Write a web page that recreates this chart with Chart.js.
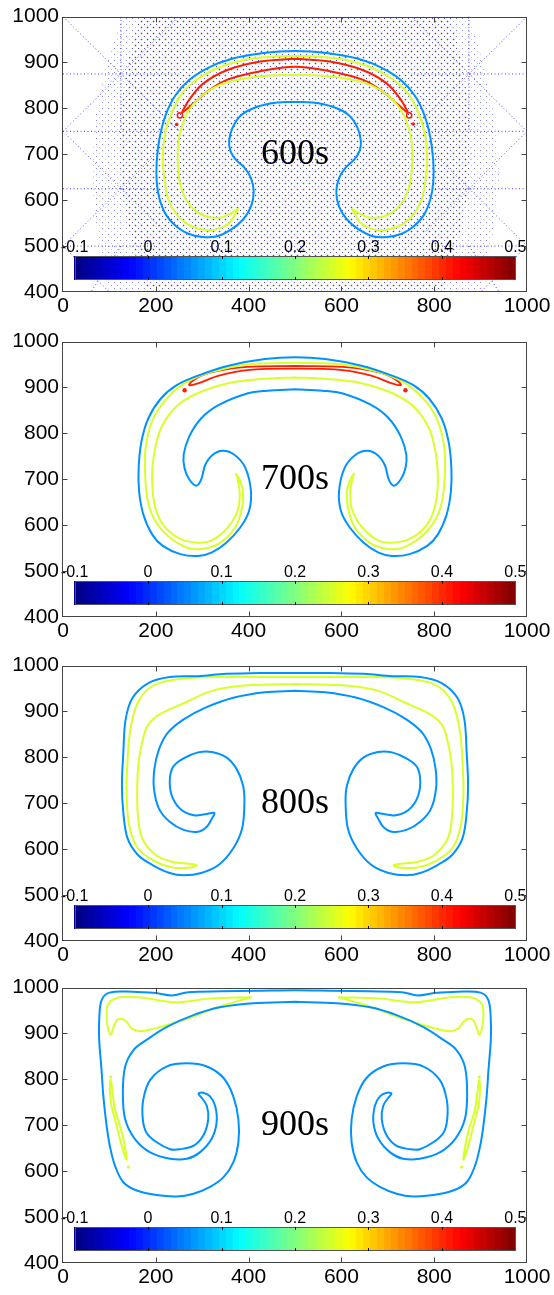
<!DOCTYPE html>
<html>
<head>
<meta charset="utf-8">
<script src="https://cdn.jsdelivr.net/npm/chart.js@4.4.0/dist/chart.umd.min.js"></script>
<style>
    body { margin: 0; background: #fff; width: 554px; height: 1295px; overflow: hidden; position: relative; }
    .panel { position: absolute; left: 0; width: 554px; }
    canvas { display: block; }
</style>
</head>
<body>
<div class="panel" style="top:0px"><canvas id="c0" width="554" height="325"></canvas></div>
<div class="panel" style="top:325px"><canvas id="c1" width="554" height="325"></canvas></div>
<div class="panel" style="top:649px"><canvas id="c2" width="554" height="325"></canvas></div>
<div class="panel" style="top:971px"><canvas id="c3" width="554" height="324"></canvas></div>
<script>
// axes
const xTicks = [0, 200, 400, 600, 800, 1000];
const yTicks = [400, 500, 600, 700, 800, 900, 1000];
const timeLabels = ['600s', '700s', '800s', '900s'];

// colorbar
const cbarTicks = [-0.1, 0, 0.1, 0.2, 0.3, 0.4, 0.5];
const cbarLabels = ['-0.1', '0', '0.1', '0.2', '0.3', '0.4', '0.5'];
const cbarX = [25, 975];
const cbarY = [426, 478];

// contour colours (levels)
const BLUE = 'rgb(0,146,255)';
const YELLOW = 'rgb(215,255,40)';
const RED = 'rgb(255,30,0)';

// ---- 600s ----
const p1BlueL = [[500,814],[462,813],[420,804],[385,786],[365,757],[358,728],[361,707],[372,689],[390,672],[405,648],[411,618],[405,586],[388,558],[362,536],[330,521],[300,520],[270,527],[245,542],[222,568],[208,603],[202,640],[202,685],[208,735],[221,785],[242,828],[272,862],[314,889],[364,908],[428,920],[500,925]];
const p1BlueR = [[572,920],[636,908],[686,889],[728,862],[758,828],[779,785],[792,735],[798,685],[798,640],[792,603],[778,568],[755,542],[730,527],[700,520],[670,521],[638,536],[612,558],[595,586],[589,618],[595,648],[610,672],[628,689],[639,707],[642,728],[635,757],[615,786],[580,804],[538,813],[500,814]];
const p1YellowL = [[500,873],[440,871],[385,864],[335,850],[297,826],[268,790],[252,745],[247,700],[250,650],[260,612],[280,582],[308,565],[338,562],[360,570],[377,581],[372,571],[358,550],[336,538],[308,535],[273,545],[244,570],[227,602],[218,650],[215,695],[220,745],[234,790],[256,832],[290,864],[333,888],[383,904],[440,912],[500,914]];
const p1YellowR = [[560,912],[617,904],[667,888],[710,864],[744,832],[766,790],[780,745],[785,695],[782,650],[773,602],[756,570],[727,545],[692,535],[664,538],[642,550],[628,571],[623,581],[640,570],[662,562],[692,565],[720,582],[740,612],[750,650],[753,700],[748,745],[732,790],[703,826],[665,850],[615,864],[560,871],[500,873]];
const p1RedL = [[500,908],[425,902],[353,883],[302,854],[274,822],[262,802],[257,792],[265,797],[281,811],[310,836],[353,862],[425,881],[500,891]];
const p1RedR = [[575,881],[647,862],[690,836],[719,811],[735,797],[743,792],[738,802],[726,822],[698,854],[647,883],[575,902],[500,908]];
const p1RedRings = [[252,785],[746,785]];
const p1RedDots = [[245,765],[755,766]];

// adaptive mesh of the 600s frame
const meshDense = [[165,1000],[835,1000],[860,900],[875,800],[880,700],[870,600],[850,500],[820,400],[180,400],[150,500],[130,600],[120,700],[125,800],[140,900]];
const meshMedium = [[125,1000],[875,1000],[905,900],[930,780],[940,650],[925,520],[900,400],[100,400],[75,520],[60,650],[70,780],[95,900]];
const meshSegs = [
    [0,1000,250,750],[0,750,250,1000],[0,875,250,875],[125,1000,125,750],[0,750,220,750],
    [0,750,125,625],[125,625,0,500],[0,625,200,625],[125,625,220,720],[125,625,220,530],[0,500,200,500],[0,500,100,400],[125,500,60,400],
    [1000,1000,750,750],[1000,750,750,1000],[1000,875,750,875],[875,1000,875,750],[1000,750,780,750],
    [1000,750,875,625],[875,625,1000,500],[1000,625,800,625],[875,625,780,720],[875,625,780,530],[1000,500,800,500],[1000,500,900,400],[875,500,940,400]
];

// ---- 700s ----
const p2BlueL = [[500,896],[440,893],[397,887],[336,862],[298,833],[272,793],[260,753],[262,724],[272,700],[287,686],[298,700],[306,730],[321,752],[344,762],[370,753],[393,725],[405,675],[401,631],[382,595],[352,562],[321,541],[291,533],[253,537],[215,555],[192,580],[173,624],[164,674],[163,725],[169,782],[184,833],[211,876],[245,905],[291,926],[359,948],[435,962],[500,966]];
const p2BlueR = [[565,962],[641,948],[709,926],[755,905],[789,876],[816,833],[831,782],[837,725],[836,674],[827,624],[808,580],[785,555],[747,537],[709,533],[679,541],[648,562],[618,595],[599,631],[595,675],[607,725],[630,753],[656,762],[679,752],[694,730],[702,700],[713,686],[728,700],[738,724],[740,753],[728,793],[702,833],[664,862],[603,887],[560,893],[500,896]];
const p2YellowL = [[500,922],[435,919],[359,910],[291,888],[245,859],[211,811],[196,753],[192,696],[199,638],[218,598],[253,570],[291,562],[321,567],[355,595],[376,631],[381,667],[376,703],[373,712],[382,696],[388,674],[386,638],[371,595],[336,560],[298,548],[268,551],[230,573],[199,609],[183,652],[177,710],[178,768],[192,826],[218,869],[260,908],[321,934],[397,950],[500,954]];
const p2YellowR = [[603,950],[679,934],[740,908],[782,869],[808,826],[822,768],[823,710],[817,652],[801,609],[770,573],[732,551],[702,548],[664,560],[629,595],[614,638],[612,674],[618,696],[627,712],[624,703],[619,667],[624,631],[645,595],[679,567],[709,562],[747,570],[782,598],[801,638],[808,696],[804,753],[789,811],[755,859],[709,888],[641,910],[565,919],[500,922]];
const p2RedL = [[500,947],[397,945],[336,937],[298,926],[276,912],[272,905],[291,909],[336,926],[397,938],[500,941]];
const p2RedR = [[603,938],[664,926],[709,909],[728,905],[724,912],[702,926],[664,937],[603,945],[500,947]];
const p2RedDots = [[262,894],[738,894]];

// ---- 800s ----
const p3BlueL = [[500,945],[435,942],[367,930],[306,908],[260,883],[226,854],[207,818],[197,775],[196,732],[207,688],[230,660],[260,642],[291,638],[310,649],[321,667],[326,679],[306,676],[283,674],[256,685],[237,710],[230,746],[237,779],[260,798],[291,811],[321,812],[352,800],[374,775],[388,739],[391,703],[386,645],[367,602],[336,566],[298,548],[260,543],[230,548],[192,566],[161,588],[139,624],[130,680],[127,740],[130,810],[135,883],[150,930],[184,962],[230,975],[291,977],[352,982],[428,984],[500,984]];
const p3BlueR = [[572,984],[648,982],[709,977],[770,975],[816,962],[850,930],[865,883],[870,810],[873,740],[870,680],[861,624],[839,588],[808,566],[770,548],[740,543],[702,548],[664,566],[633,602],[614,645],[609,703],[612,739],[626,775],[648,800],[679,812],[709,811],[740,798],[763,779],[770,746],[763,710],[744,685],[717,674],[694,676],[674,679],[679,667],[690,649],[709,638],[740,642],[770,660],[793,688],[804,732],[803,775],[793,818],[774,854],[740,883],[694,908],[633,930],[565,942],[500,945]];
const p3YellowL = [[500,960],[397,957],[321,945],[260,918],[212,896],[195,884],[180,865],[170,830],[163,790],[160,739],[161,680],[170,625],[199,588],[237,572],[275,568],[288,565],[275,560],[237,560],[199,573],[161,602],[143,650],[137,720],[139,790],[145,860],[161,919],[192,955],[245,970],[321,975],[400,975],[500,975]];
const p3YellowR = [[600,975],[679,975],[755,970],[808,955],[839,919],[855,860],[861,790],[863,720],[857,650],[839,602],[801,573],[763,560],[725,560],[712,565],[725,568],[763,572],[801,588],[830,625],[839,680],[840,739],[837,790],[830,830],[820,865],[805,884],[788,896],[740,918],[679,945],[603,957],[500,960]];

// ---- 900s ----
const p4BlueL = [[500,969],[410,966],[338,957],[281,940],[223,914],[180,886],[152,864],[134,828],[129,770],[134,713],[155,670],[188,641],[231,627],[267,627],[295,641],[320,670],[331,706],[328,742],[317,763],[302,771],[292,769],[299,760],[310,742],[313,713],[302,677],[281,655],[252,648],[231,648],[202,663],[180,684],[172,713],[173,756],[188,799],[223,828],[267,835],[310,828],[346,803],[367,763],[378,713],[378,663],[367,619],[346,587],[317,566],[281,551],[245,545],[202,548],[159,558],[130,576],[112,612],[101,655],[94,699],[87,763],[83,821],[78,886],[78,929],[83,972],[100,989],[150,991],[200,988],[235,983],[270,990],[340,992],[420,993],[500,994]];
const p4BlueR = [[580,993],[660,992],[730,990],[765,983],[800,988],[850,991],[900,989],[917,972],[922,929],[922,886],[917,821],[913,763],[906,699],[899,655],[888,612],[870,576],[841,558],[798,548],[755,545],[719,551],[683,566],[654,587],[633,619],[622,663],[622,713],[633,763],[654,803],[690,828],[733,835],[777,828],[812,799],[827,756],[828,713],[820,684],[798,663],[769,648],[748,648],[719,655],[698,677],[687,713],[690,742],[701,760],[708,769],[698,771],[683,763],[672,742],[669,706],[680,670],[705,641],[733,627],[769,627],[812,641],[845,670],[866,713],[871,770],[866,828],[848,864],[820,886],[777,914],[719,940],[662,957],[590,966],[500,969]];
const p4YellowTopL = [[407,979],[317,976],[245,968],[209,972],[173,978],[123,979],[98,965],[94,936],[98,907],[103,897],[108,911],[116,929],[126,932],[137,925],[148,911],[166,905],[209,914],[267,932],[324,954],[381,972],[407,979]];
const p4YellowTopR = [[593,979],[683,976],[755,968],[791,972],[827,978],[877,979],[902,965],[906,936],[902,907],[897,897],[892,911],[884,929],[874,932],[863,925],[852,911],[834,905],[791,914],[733,932],[676,954],[619,972],[593,979]];
const p4YellowSideL = [[103,800],[106,780],[112,735],[126,688],[134,650],[137,625],[131,640],[124,665],[114,705],[104,745],[101,785],[103,800]];
const p4YellowSideR = [[897,800],[894,780],[888,735],[874,688],[866,650],[863,625],[869,640],[876,665],[886,705],[896,745],[899,785],[897,800]];
const p4YellowDots = [[103,805],[141,609],[897,805],[859,609]];

const toPts = arr => arr.map(p => ({ x: p[0], y: p[1] }));

function curve(pts, color, width) {
    return {
        data: toPts(pts), showLine: true, borderColor: color, borderWidth: width,
        pointRadius: 0, tension: 0.35, fill: false
    };
}

function dots(pts, color, r, hollow) {
    return {
        data: toPts(pts), showLine: false, pointRadius: r,
        pointBorderColor: color, pointBorderWidth: hollow ? 1.5 : 0,
        pointBackgroundColor: hollow ? 'rgba(0,0,0,0)' : color
    };
}

function meshLines() {
    const pts = [];
    meshSegs.forEach(s => {
        pts.push({ x: s[0], y: s[1] }, { x: s[2], y: s[3] }, { x: null, y: null });
    });
    return {
        data: pts, showLine: true, spanGaps: false, borderColor: 'rgba(40,40,255,0.85)',
        borderWidth: 1, borderDash: [1, 2.5], pointRadius: 0, tension: 0, order: 10
    };
}

// matlab jet colormap
function jet(t) {
    const c = v => Math.round(255 * Math.min(1, Math.max(0, v)));
    return 'rgb(' + c(1.5 - Math.abs(4 * t - 3)) + ',' + c(1.5 - Math.abs(4 * t - 2)) + ',' + c(1.5 - Math.abs(4 * t - 1)) + ')';
}

function makePattern(ctx, size, pix) {
    const c = document.createElement('canvas');
    c.width = size; c.height = size;
    const g = c.getContext('2d');
    pix.forEach(p => { g.fillStyle = p[2]; g.fillRect(p[0], p[1], 1, 1); });
    return ctx.createPattern(c, 'repeat');
}

function polyPath(ctx, xs, ys, poly) {
    ctx.beginPath();
    poly.forEach((p, i) => {
        const px = xs.getPixelForValue(p[0]), py = ys.getPixelForValue(p[1]);
        if (i === 0) ctx.moveTo(px, py); else ctx.lineTo(px, py);
    });
    ctx.closePath();
}

const meshPlugin = {
    id: 'mesh',
    beforeDatasetsDraw(chart) {
        const { ctx, chartArea: a } = chart;
        const xs = chart.scales.x, ys = chart.scales.y;
        ctx.save();
        ctx.beginPath();
        ctx.rect(a.left, a.top, a.right - a.left, a.bottom - a.top);
        ctx.clip();
        // sparse nodes round the refined zone
        ctx.fillStyle = makePattern(ctx, 6, [[0, 0, 'rgba(40,40,255,0.55)'], [3, 3, 'rgba(40,40,255,0.3)']]);
        polyPath(ctx, xs, ys, meshMedium);
        ctx.fill();
        // refined zone: small crosses and dots
        ctx.fillStyle = makePattern(ctx, 6, [
            [3, 3, 'rgba(30,30,255,0.8)'], [2, 3, 'rgba(60,60,255,0.25)'], [4, 3, 'rgba(60,60,255,0.25)'],
            [3, 2, 'rgba(60,60,255,0.25)'], [3, 4, 'rgba(60,60,255,0.25)'], [0, 0, 'rgba(30,30,255,0.6)']
        ]);
        polyPath(ctx, xs, ys, meshDense);
        ctx.fill();
        ctx.restore();
    }
};

function makeDecor(label) {
    return {
        id: 'decor',
        afterDatasetsDraw(chart) {
            const { ctx, chartArea: a } = chart;
            const xs = chart.scales.x, ys = chart.scales.y;
            ctx.save();

            // time label
            ctx.fillStyle = '#000';
            ctx.font = '36px "Liberation Serif", "Times New Roman", serif';
            ctx.textAlign = 'center';
            ctx.textBaseline = 'middle';
            ctx.fillText(label, xs.getPixelForValue(500), ys.getPixelForValue(700));

            // colorbar
            const x0 = xs.getPixelForValue(cbarX[0]), x1 = xs.getPixelForValue(cbarX[1]);
            const yT = Math.round(ys.getPixelForValue(cbarY[1])), yB = Math.round(ys.getPixelForValue(cbarY[0]));
            const n = 64;
            for (let i = 0; i < n; i++) {
                const l = x0 + (x1 - x0) * i / n, r = x0 + (x1 - x0) * (i + 1) / n;
                ctx.fillStyle = jet((i + 0.5) / n);
                ctx.fillRect(Math.floor(l), yT, Math.ceil(r) - Math.floor(l), yB - yT);
            }
            ctx.strokeStyle = '#555';
            ctx.lineWidth = 1;
            ctx.strokeRect(Math.round(x0) + 0.5, yT + 0.5, Math.round(x1 - x0) - 1, yB - yT - 1);
            const cmin = cbarTicks[0], cmax = cbarTicks[cbarTicks.length - 1];
            ctx.font = '16px "Liberation Sans", Arial, sans-serif';
            ctx.textBaseline = 'alphabetic';
            ctx.strokeStyle = '#000';
            cbarTicks.forEach((v, i) => {
                const px = x0 + (v - cmin) / (cmax - cmin) * (x1 - x0);
                if (i > 0 && i < cbarTicks.length - 1) {
                    const tx = Math.round(px) + 0.5;
                    ctx.beginPath();
                    ctx.moveTo(tx, yT); ctx.lineTo(tx, yT + 3);
                    ctx.moveTo(tx, yB); ctx.lineTo(tx, yB - 3);
                    ctx.stroke();
                }
                ctx.fillStyle = '#000';
                ctx.fillText(cbarLabels[i], px, yT - 4);
            });

            // frame with inward ticks
            ctx.strokeStyle = '#444';
            ctx.lineWidth = 1;
            const L = Math.round(a.left) - 0.5, R = Math.round(a.right) - 0.5;
            const T = Math.round(a.top) + 0.5, B = Math.round(a.bottom) - 0.5;
            ctx.strokeRect(L, T, R - L, B - T);
            ctx.beginPath();
            xTicks.slice(1, -1).forEach(v => {
                const px = Math.round(xs.getPixelForValue(v)) + 0.5;
                ctx.moveTo(px, B); ctx.lineTo(px, B - 5);
                ctx.moveTo(px, T); ctx.lineTo(px, T + 5);
            });
            yTicks.slice(1, -1).forEach(v => {
                const py = Math.round(ys.getPixelForValue(v)) + 0.5;
                ctx.moveTo(L, py); ctx.lineTo(L + 5, py);
                ctx.moveTo(R, py); ctx.lineTo(R - 5, py);
            });
            ctx.stroke();
            ctx.restore();
        }
    };
}

const tickFont = { family: '"Liberation Sans", Arial, sans-serif', size: 21 };

function makeChart(id, label, datasets, extraPlugins) {
    const el = document.getElementById(id);
    return new Chart(el.getContext('2d'), {
        type: 'scatter',
        data: { datasets: datasets },
        options: {
            responsive: false,
            animation: false,
            events: [],
            layout: { padding: { top: 14, right: 27, bottom: 0, left: 0 } },
            plugins: { legend: { display: false }, tooltip: { enabled: false } },
            scales: {
                x: {
                    type: 'linear', min: 0, max: 1000,
                    afterBuildTicks: s => { s.ticks = xTicks.map(v => ({ value: v })); },
                    afterFit: s => { s.height = el.height - 14 - 278; },
                    grid: { display: false, drawTicks: false },
                    border: { display: false },
                    ticks: { color: '#000', font: tickFont, padding: 2, maxRotation: 0, autoSkip: false, callback: v => String(v) }
                },
                y: {
                    type: 'linear', min: 400, max: 1000,
                    afterBuildTicks: s => { s.ticks = yTicks.map(v => ({ value: v })); },
                    afterFit: s => { s.width = 63; },
                    grid: { display: false, drawTicks: false },
                    border: { display: false },
                    ticks: { color: '#000', font: tickFont, padding: 4, autoSkip: false, callback: v => String(v) }
                }
            }
        },
        plugins: (extraPlugins || []).concat([makeDecor(label)])
    });
}

makeChart('c0', timeLabels[0], [
    curve(p1BlueL.concat(p1BlueR), BLUE, 2),
    curve(p1YellowL.concat(p1YellowR), YELLOW, 2),
    curve(p1RedL.concat(p1RedR), RED, 2),
    dots(p1RedRings, RED, 2.6, true),
    dots(p1RedDots, RED, 1.8, false),
    meshLines()
], [meshPlugin]);

makeChart('c1', timeLabels[1], [
    curve(p2BlueL.concat(p2BlueR), BLUE, 2),
    curve(p2YellowL.concat(p2YellowR), YELLOW, 2),
    curve(p2RedL.concat(p2RedR), RED, 1.8),
    dots(p2RedDots, RED, 2.2, false)
]);

makeChart('c2', timeLabels[2], [
    curve(p3BlueL.concat(p3BlueR), BLUE, 2),
    curve(p3YellowL.concat(p3YellowR), YELLOW, 2)
]);

makeChart('c3', timeLabels[3], [
    curve(p4BlueL.concat(p4BlueR), BLUE, 2),
    curve(p4YellowTopL, YELLOW, 2),
    curve(p4YellowTopR, YELLOW, 2),
    curve(p4YellowSideL, YELLOW, 2),
    curve(p4YellowSideR, YELLOW, 2),
    dots(p4YellowDots, YELLOW, 1.6, false)
]);
</script>
</body>
</html>
